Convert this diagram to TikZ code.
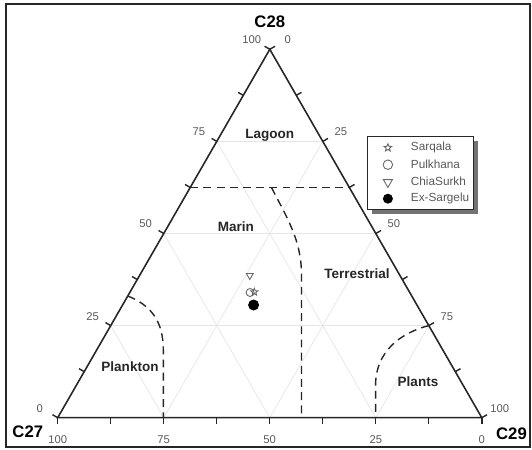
\documentclass[tikz,border=0pt]{standalone}
\usepackage{fontspec}
\setmainfont{Liberation Sans}
\usetikzlibrary{calc,shapes.geometric}

\begin{document}
\begin{tikzpicture}
		[%%%%%%%%%%%%%%%%%%%%%%%%%%%%%%
		x=0.02cm, y=-0.02cm,
		axis/.style={draw=black!85, line width=0.9pt, line join=miter},
		grid/.style={draw=black!10, line width=0.4pt},
		tick/.style={draw=black!85, line width=0.8pt},
		bound/.style={draw=black!85, line width=0.8pt, dash pattern=on 4.5pt off 3pt},
		num/.style={font=\fontsize{6.4}{7}\selectfont, text=black!65, inner sep=0pt},
		corner/.style={font=\fontsize{9.5}{11}\selectfont\bfseries, inner sep=0pt},
		region/.style={font=\fontsize{7.7}{9}\selectfont\bfseries, text=black!85, inner sep=0pt},
		entry/.style={font=\fontsize{6.7}{8}\selectfont, text=black!65, anchor=west, inner sep=0pt},
		sym/.style={draw=black!60, line width=0.5pt, inner sep=0pt},
		tri/.style={sym, regular polygon, regular polygon sides=3, shape border rotate=180},
		ring/.style={sym, circle},
		starmark/.style={sym, star, star points=5, star point ratio=2.3},
		dot/.style={circle, fill=black, inner sep=0pt},
		]%%%%%%%%%%%%%%%%%%%%%%%%%%%%%%
		
		\useasboundingbox (0,0) rectangle (532,450);
		\draw[line width=1.4pt, black!85] (6,4) rectangle (530,447);
		
		\coordinate (A) at (57.7,417.7);  % C27
		\coordinate (B) at (481.8,417.7); % C29
		\coordinate (C) at (269.8,49.3);  % C28
		
		% grid
		\foreach \t in {0.25,0.5,0.75}{
			\draw[grid] ($(A)!\t!(C)$) -- ($(B)!\t!(C)$);
			\draw[grid] ($(A)!\t!(B)$) -- ($(C)!\t!(B)$);
			\draw[grid] ($(B)!\t!(A)$) -- ($(C)!\t!(A)$);
		}
		
		% ticks
		\foreach \t in {0,0.125,...,1}{
			\draw[tick] ($(A)!\t!(B)$) -- ++(0,6);
			\draw[tick] ($(A)!\t!(C)$) -- ++(-5.2,-3);
			\draw[tick] ($(C)!\t!(B)$) -- ++(5.2,-3);
		}
		\draw[axis] (A) -- (B) -- (C) -- cycle;
		
		% scale labels
		\foreach \v/\t in {100/0,75/0.25,50/0.5,25/0.75,0/1}
			\node[num] (b\v) at ($(A)!\t!(B)+(0,22.3)$) {\v};
		\foreach \v/\t in {0/0,25/0.25,50/0.5,75/0.75,100/1}
			\node[num] (l\v) at ($(A)!\t!(C)+(-18,-9.4)$) {\v};
		\foreach \v/\t in {0/0,25/0.25,50/0.5,75/0.75,100/1}
			\node[num] (r\v) at ($(C)!\t!(B)+(18,-9.4)$) {\v};
		
		\node[corner] (c28) at (269.8,21.7) {C28};
		\node[corner] (c27) at (27.8,431.7) {C27};
		\node[corner] (c29) at (511.5,433.3) {C29};
		
		% fields
		\draw[bound] ($(A)!0.625!(C)$) -- ($(B)!0.625!(C)$);
		\draw[bound] (271.5,187.5) .. controls (287,218) and (301.5,240) .. (301.5,275) -- (301.5,417.7);
		\draw[bound] (127.8,296) .. controls (150,305) and (163.3,320) .. (163.3,350) -- (163.3,417.7);
		\draw[bound] (428.8,325.6) .. controls (400,333) and (375.6,352) .. (375.6,385) -- (375.6,417.7);
		
		\node[region] (lagoon) at (269.8,135.7) {Lagoon};
		\node[region] (marin) at (235.8,226.7) {Marin};
		\node[region] (terr) at (357,274) {Terrestrial};
		\node[region] (plank) at (130,366.7) {Plankton};
		\node[region] (plants) at (418,381.7) {Plants};
		
		% samples
		\node[tri, minimum size=0.16cm] (chia) at (249.8,275.5) {};
		\node[ring, minimum size=0.16cm] (pulk) at (250.1,292.5) {};
		\node[starmark, minimum size=0.15cm] (sarq) at (254.3,292) {};
		\node[dot, minimum size=0.22cm] (exs) at (253.6,305) {};
		
		% legend
		\fill[black!55] (372,141) rectangle (478,213.5);
		\draw[draw=black!85, fill=white, line width=0.8pt] (367.5,136.7) rectangle (473.4,209.3);
		\node[starmark, minimum size=0.16cm] (k1) at (387.9,147.7) {};
		\node[ring, minimum size=0.19cm] (k2) at (387.9,164.7) {};
		\node[tri, minimum size=0.21cm] (k3) at (387.9,182.2) {};
		\node[dot, minimum size=0.2cm] (k4) at (387.9,198.7) {};
		\node[entry] (e1) at (410.6,147.7) {Sarqala};
		\node[entry] (e2) at (410.6,164.7) {Pulkhana};
		\node[entry] (e3) at (410.6,181.7) {ChiaSurkh};
		\node[entry] (e4) at (410.6,198.7) {Ex-Sargelu};
		\end{tikzpicture}
\end{document}
